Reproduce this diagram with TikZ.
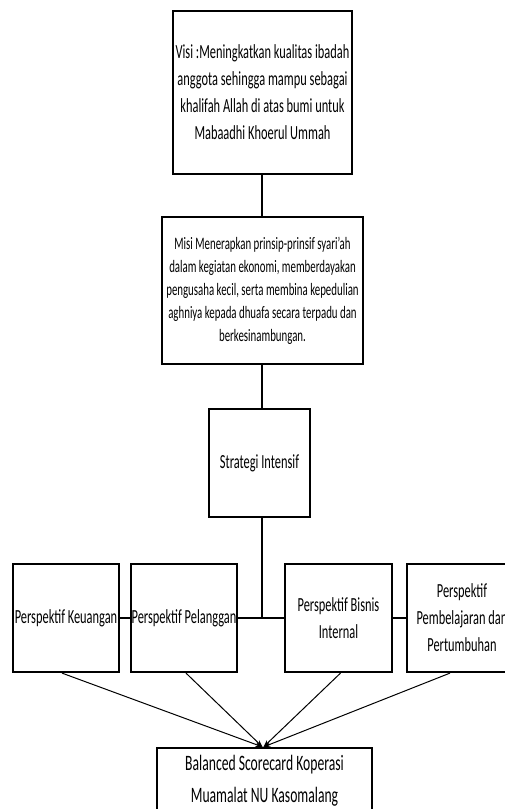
\documentclass[tikz,border=0pt]{standalone}
\usepackage{fontspec}
\setmainfont{Carlito}[FakeStretch=0.62]
\usetikzlibrary{arrows.meta}
\tikzset{
  box/.style={draw=black, line width=2.2pt, fill=white, align=center, inner sep=1pt},
  f20/.style={font=\fontsize{20}{27}\selectfont},
  link/.style={draw=black, line width=1.4pt},
  hlink/.style={draw=black, line width=2.4pt},
  arr/.style={draw=black, line width=1pt, -{Stealth[length=7pt,width=5pt,open]}}
}
\begin{document}
\begin{tikzpicture}[x=1pt,y=-1pt]
\useasboundingbox (0,0) rectangle (505,809);
\node[box,f20,minimum width=179pt,minimum height=163pt] (visi) at (262.5,92.5)
  {Visi :Meningkatkan kualitas ibadah\\anggota sehingga mampu sebagai\\khalifah Allah di atas bumi untuk\\Mabaadhi Khoerul Ummah};
\node[box,font=\fontsize{17.5}{23}\selectfont,minimum width=201pt,minimum height=147pt] (misi) at (262.5,290.5)
  {Misi Menerapkan prinsip-prinsif syari'ah\\dalam kegiatan ekonomi, memberdayakan\\pengusaha kecil, serta membina kepedulian\\aghniya kepada dhuafa secara terpadu dan\\berkesinambungan.};
\node[box,f20,minimum width=101pt,minimum height=108pt] (strat) at (259.5,463) {Strategi Intensif};
\node[box,f20,minimum width=106pt,minimum height=108pt] (keu) at (66,618) {Perspektif Keuangan};
\node[box,f20,minimum width=106pt,minimum height=108pt] (pel) at (184,618) {Perspektif Pelanggan};
\node[box,f20,minimum width=107pt,minimum height=108pt] (bis) at (338.5,618) {Perspektif Bisnis\\Internal};
\node[box,f20,minimum width=110pt,minimum height=108pt] (pem) at (462,618) {Perspektif\\Pembelajaran dan\\Pertumbuhan};
\node[box,font=\fontsize{22}{32}\selectfont,minimum width=215pt,minimum height=66pt] (bsc) at (264.5,781)
  {Balanced Scorecard Koperasi\\Muamalat NU Kasomalang};
\coordinate (hub) at (262,617);
\draw[link] (visi.south -| hub) -- (misi.north -| hub);
\draw[link] (misi.south -| hub) -- (strat.north -| hub);
\draw[link] (strat.south -| hub) -- (hub);
\draw[link,line width=1.8pt] (keu.east) -- (pel.west);
\draw[hlink] (pel.east) -- (bis.west);
\draw[link,line width=2pt] (bis.east) -- (pem.west);
\draw[arr] ([xshift=-4pt]keu.south) -- ([xshift=-2pt]bsc.north);
\draw[arr] ([xshift=2pt]pel.south) -- ([xshift=-2pt]bsc.north);
\draw[arr] ([xshift=2pt]bis.south) -- ([xshift=-1pt]bsc.north);
\draw[arr] ([xshift=-12pt]pem.south) -- ([xshift=-1pt]bsc.north);
\end{tikzpicture}
\end{document}
